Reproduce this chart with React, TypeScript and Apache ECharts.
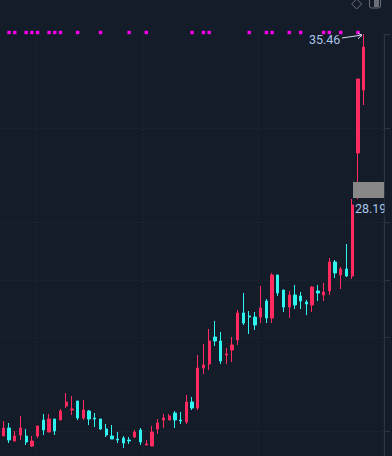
import React, { useEffect, useRef } from "react";
import * as echarts from "echarts";

const categories = Array.from({ length: 67 }, (_, i) => String(i + 1));

// [open, close, low, high]
const candles = [
  [17.772, 18.124, 17.772, 18.432],
  [18.124, 17.596, 17.464, 18.344],
  [17.552, 17.772, 17.552, 17.992],
  [17.816, 18.124, 17.596, 18.652],
  [17.772, 17.508, 17.376, 18.08],
  [17.332, 17.552, 17.288, 17.772],
  [17.772, 18.212, 17.684, 18.212],
  [18.476, 18.036, 17.816, 18.74],
  [17.948, 18.52, 17.948, 18.74],
  [18.52, 17.992, 17.816, 18.52],
  [18.476, 18.872, 18.476, 18.96],
  [19.092, 19.268, 19.004, 19.664],
  [18.916, 18.96, 18.696, 19.532],
  [19.312, 18.564, 18.476, 19.312],
  [18.564, 18.916, 18.476, 19.356],
  [18.872, 18.52, 18.256, 18.916],
  [18.564, 18.52, 18.168, 18.784],
  [18.52, 18.08, 18.036, 18.52],
  [18.08, 17.816, 17.728, 18.3],
  [17.772, 17.64, 17.64, 18.256],
  [17.64, 17.596, 17.464, 17.948],
  [17.684, 17.464, 17.244, 17.772],
  [17.596, 17.552, 17.42, 17.728],
  [17.728, 17.948, 17.684, 18.036],
  [18.036, 17.508, 17.376, 18.124],
  [17.376, 17.42, 17.376, 17.596],
  [17.332, 17.948, 17.332, 18.212],
  [18.08, 18.344, 17.86, 18.52],
  [18.476, 18.564, 18.124, 18.74],
  [18.476, 18.652, 18.476, 18.74],
  [18.784, 18.476, 18.124, 18.872],
  [18.476, 18.432, 18.3, 18.828],
  [18.388, 19.268, 18.3, 19.576],
  [19.268, 19.004, 18.916, 19.488],
  [19.004, 20.764, 18.916, 21.336],
  [20.764, 20.896, 20.5, 21.82],
  [20.94, 21.952, 20.676, 22.48],
  [22.128, 21.952, 21.732, 22.832],
  [21.952, 21.072, 20.94, 22.348],
  [21.336, 21.38, 20.94, 21.644],
  [21.556, 21.776, 21.028, 22.128],
  [21.996, 23.184, 21.776, 23.316],
  [23.184, 22.744, 22.656, 24.064],
  [23.052, 23.008, 22.26, 23.272],
  [23.008, 22.656, 22.436, 23.228],
  [23.008, 23.404, 22.744, 24.372],
  [23.712, 22.964, 22.744, 23.8],
  [22.964, 24.856, 22.744, 24.944],
  [24.856, 24.064, 23.932, 24.856],
  [24.196, 23.448, 23.228, 24.196],
  [23.448, 23.976, 22.964, 24.152],
  [23.976, 23.536, 23.36, 24.416],
  [23.932, 23.712, 23.36, 24.108],
  [23.668, 23.58, 23.096, 23.756],
  [23.536, 24.328, 23.228, 24.372],
  [24.152, 24.064, 23.712, 24.416],
  [23.976, 24.108, 23.712, 24.504],
  [24.152, 25.428, 23.976, 25.604],
  [25.428, 24.944, 24.724, 25.516],
  [24.856, 25.12, 24.24, 25.208],
  [25.12, 24.812, 24.768, 26.22],
  [24.812, 27.936, 24.68, 28.2],
  [30.224, 33.48, 28.19, 33.48],
  [32.996, 34.888, 32.336, 35.46],
];

const signalIndexes = [1, 2, 4, 5, 6, 8, 9, 10, 13, 17, 22, 25, 33, 35, 36, 43, 46, 47, 50, 52, 56, 57, 59, 62];
const signalLevel = 35.526;
const gridPrices = [17.992, 22.128, 24.636, 27.188, 31.324, 35.46];
const verticalIndexes = [6, 25, 45];
const yMin = 16.892;
const yMax = 35.46;
const highLabel = "35.46";
const lowLabel = "28.19";

const BG = "#141b29";
const RED = "#ff2a5f";
const CYAN = "#2ff5f0";
const GRID = "#262e3c";
const TICK = "#2d3543";
const TEXT = "#a9c6e8";
const ICON = "#6b6f78";
const FONT = "Roboto, 'Noto Sans', sans-serif";

export default function App() {
  const ref = useRef<HTMLDivElement>(null);
  useEffect(() => {
    document.body.style.margin = "0";
    const chart = echarts.init(ref.current!, null, { renderer: "svg" });
    chart.setOption({
      animation: false,
      backgroundColor: BG,
      tooltip: { show: false },
      grid: { left: 0.44, width: 383.2, top: 34, height: 422 },
      xAxis: {
        type: "category",
        data: categories,
        axisLine: { show: false },
        axisLabel: { show: false },
        axisTick: { show: false, alignWithLabel: true },
        splitLine: {
          show: true,
          interval: (i: number) => verticalIndexes.includes(i),
          lineStyle: { color: GRID, type: [1, 3], width: 1 },
        },
      },
      yAxis: {
        type: "value",
        position: "right",
        offset: 0.4,
        min: yMin,
        max: yMax,
        axisLine: { show: true, lineStyle: { color: TICK, width: 1 } },
        axisLabel: { show: false, customValues: gridPrices },
        axisTick: { show: true, length: 6, customValues: gridPrices, lineStyle: { color: TICK } },
        splitLine: {
          show: true,
          showMaxLine: false,
          lineStyle: { color: GRID, type: [1, 3], width: 1 },
        },
      },
      series: [
        {
          type: "candlestick",
          data: candles,
          barWidth: 2.8,
          clip: false,
          itemStyle: { color: RED, color0: CYAN, borderColor: RED, borderColor0: CYAN, borderWidth: 1 },
        },
        {
          type: "scatter",
          data: signalIndexes.map((i) => [i, signalLevel]),
          symbol: "rect",
          symbolSize: 3.4,
          clip: false,
          silent: true,
          itemStyle: { color: "#ff00f0", opacity: 1 },
        },
      ],
      graphic: [
        { type: "text", z: 100, x: 309, y: 39, style: { text: highLabel, fill: TEXT, font: `12.5px ${FONT}`, verticalAlign: "middle" } },
        { type: "line", z: 100, shape: { x1: 342, y1: 38, x2: 362, y2: 35 }, style: { stroke: "#d5dcf2", lineWidth: 1 } },
        { type: "polyline", z: 100, shape: { points: [[358, 33], [362, 35.3], [358, 38.7]] }, style: { stroke: "#d5dcf2", lineWidth: 1, fill: "none" } },
        { type: "rect", z: 100, shape: { x: 353, y: 182, width: 31, height: 16 }, style: { fill: "#888888" } },
        { type: "text", z: 100, x: 355, y: 208, style: { text: lowLabel, fill: TEXT, font: `12.5px ${FONT}`, verticalAlign: "middle" } },
        { type: "rect", z: 101, shape: { x: 384.5, y: 198, width: 7.5, height: 20 }, style: { fill: BG } },
        { type: "polygon", z: 100, shape: { points: [[356.7, -1], [361.7, 4], [356.7, 9], [351.7, 4]] }, style: { stroke: ICON, fill: "none", lineWidth: 1 } },
        { type: "rect", z: 100, shape: { x: 369.5, y: -4, width: 11, height: 12, r: 2 }, style: { stroke: ICON, fill: "none", lineWidth: 1 } },
        { type: "rect", z: 100, shape: { x: 374, y: -4, width: 5, height: 11 }, style: { fill: ICON } },
      ],
    });
    return () => chart.dispose();
  }, []);
  return <div ref={ref} style={{ position: "absolute", left: 0, top: 0, width: 392, height: 456 }} />;
}
